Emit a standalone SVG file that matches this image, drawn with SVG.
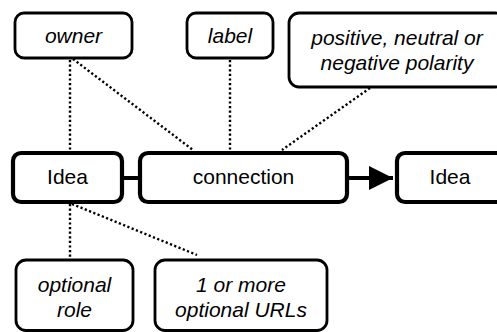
<svg xmlns="http://www.w3.org/2000/svg" width="497" height="332" viewBox="0 0 497 332">
<style>
  .small { fill: #fff; stroke: #000; stroke-width: 2.8; }
  .main { fill: #fff; stroke: #000; stroke-width: 4.2; }
  .t { font-family: "Liberation Sans", Arial, sans-serif; font-size: 21px; fill: #000; text-anchor: middle; }
  .i { font-style: italic; }
  .dot { stroke: #000; stroke-width: 2.4; stroke-dasharray: 2.2 2.4; fill: none; }
  .solid { stroke: #000; stroke-width: 4; fill: none; }
</style>
<defs>
  <marker id="arr" markerUnits="userSpaceOnUse" markerWidth="26" markerHeight="26" refX="24" refY="12" orient="auto">
    <path d="M0,0 L24,12 L0,24 Z" fill="#000"/>
  </marker>
</defs>
<rect width="497" height="332" fill="#fff"/>
<g id="connectors">
  <line class="dot" x1="70" y1="60" x2="70" y2="150"/>
  <line class="dot" x1="73" y1="59" x2="193" y2="150"/>
  <line class="dot" x1="230" y1="60" x2="230" y2="150"/>
  <line class="dot" x1="370" y1="88" x2="282" y2="150"/>
  <line class="dot" x1="70" y1="204" x2="70" y2="258"/>
  <line class="dot" x1="72" y1="204" x2="197" y2="255"/>
  <line class="solid" x1="122" y1="178" x2="140" y2="178"/>
  <line class="solid" x1="347" y1="178" x2="393" y2="178" marker-end="url(#arr)"/>
</g>
<g id="owner">
  <rect class="small" x="15" y="13" width="117" height="45" rx="9"/>
  <text class="t i" x="73.5" y="43">owner</text>
</g>
<g id="label">
  <rect class="small" x="187" y="13" width="86" height="45" rx="9"/>
  <text class="t i" x="230" y="43">label</text>
</g>
<g id="polarity">
  <rect class="small" x="289" y="13" width="216" height="74" rx="10"/>
  <text class="t i" x="397" y="45">positive, neutral or</text>
  <text class="t i" x="397" y="70">negative polarity</text>
</g>
<g id="idea1">
  <rect class="main" x="13" y="153" width="109" height="49" rx="8"/>
  <text class="t" x="67.5" y="184">Idea</text>
</g>
<g id="connection">
  <rect class="main" x="140" y="153" width="207" height="49" rx="8"/>
  <text class="t" x="243.5" y="184">connection</text>
</g>
<g id="idea2">
  <rect class="main" x="397" y="153" width="108" height="49" rx="8"/>
  <text class="t" x="450" y="184">Idea</text>
</g>
<g id="role">
  <rect class="small" x="16" y="260" width="117" height="70.5" rx="10"/>
  <text class="t i" x="74.5" y="292">optional</text>
  <text class="t i" x="74.5" y="317">role</text>
</g>
<g id="urls">
  <rect class="small" x="155" y="260" width="172" height="70.5" rx="10"/>
  <text class="t i" x="241" y="292">1 or more</text>
  <text class="t i" x="241" y="317">optional URLs</text>
</g>
</svg>
